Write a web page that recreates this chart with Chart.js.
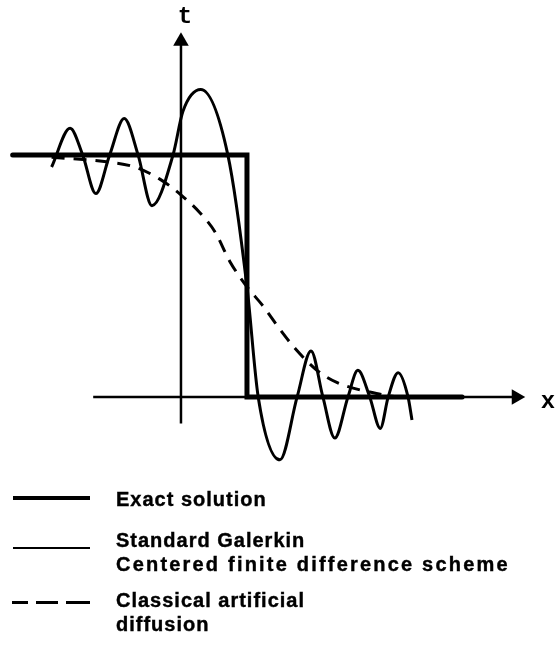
<!DOCTYPE html>
<html>
<head>
<meta charset="utf-8">
<script src="https://cdn.jsdelivr.net/npm/chart.js@4.4.0/dist/chart.umd.min.js"></script>
<style>
  body { margin: 0; background: #fff; }
  #wrap { position: relative; width: 555px; height: 660px; }
  #plot { position: absolute; left: 0; top: 0; }
  .key { position: absolute; left: 13px; width: 77px; background: #000; }
  .txt { position: absolute; left: 116px; font-family: "Liberation Sans", Arial, sans-serif;
         font-weight: bold; font-size: 20px; line-height: 24px; letter-spacing: 1px; color: #000;
         white-space: nowrap; -webkit-text-stroke: 0.4px #000; }
</style>
</head>
<body>
<div id="wrap">
  <canvas id="plot" width="555" height="660"></canvas>
  <div class="key" style="top:496px;height:4px;"></div>
  <div class="txt" style="top:487px;">Exact solution</div>
  <div class="key" style="top:547px;height:2px;"></div>
  <div class="txt" style="top:528px;">Standard Galerkin<br><span style="letter-spacing:2.2px;">Centered finite difference scheme</span></div>
  <div class="key" style="top:601px;height:3px;width:16px;left:12px;"></div>
  <div class="key" style="top:601px;height:3px;width:22px;left:36px;"></div>
  <div class="key" style="top:601px;height:3px;width:24px;left:66px;"></div>
  <div class="txt" style="top:588px;">Classical artificial<br>diffusion</div>
</div>
<script>
// exact solution: step from 1 to 0 at x = 1
var exactX = [-2.55, 1.0, 1.0, 4.26];
var exactY = [1, 1, 0, 0];

// standard Galerkin / centered differences (oscillating)
var galerkinX = [-1.96, -1.68, -1.49, -1.29, -1.08, -0.86, -0.65, -0.44, -0.12, 0.03, 0.30, 0.71, 1.0, 1.17, 1.5, 1.76, 1.97, 2.15, 2.33, 2.53, 2.68, 2.86, 3.02, 3.14, 3.29, 3.44, 3.5];
var galerkinY = [0.95, 1.11, 1.0, 0.84, 1.0, 1.15, 1.0, 0.79, 1.0, 1.18, 1.27, 1.0, 0.455, 0, -0.26, 0, 0.19, 0, -0.17, 0, 0.11, 0, -0.13, 0, 0.10, 0, -0.095];

// classical artificial diffusion (smeared)
var diffX = [-1.96, -1.08, -0.70, -0.32, 0.02, 0.29, 0.52, 0.74, 1.0, 1.23, 1.47, 1.73, 2.06, 2.36, 2.86, 3.36, 4.0];
var diffY = [0.99, 0.97, 0.95, 0.90, 0.83, 0.76, 0.68, 0.56, 0.455, 0.38, 0.29, 0.20, 0.11, 0.06, 0.02, 0, 0];

// axes with arrow heads
var xAxisX = [-1.33, 5.08];
var tAxisY = [-0.11, 1.47];

function pts(xs, ys) {
  return xs.map(function (v, i) { return { x: v, y: ys[i] }; });
}

var labelPlugin = {
  id: 'axisLabels',
  afterDatasetsDraw: function (chart) {
    var c = chart.ctx, sx = chart.scales.x, sy = chart.scales.y;
    c.save();
    c.fillStyle = '#000';
    c.font = 'bold 24px "Liberation Mono", monospace';
    c.textAlign = 'center';
    c.textBaseline = 'middle';
    c.fillText('t', sx.getPixelForValue(0.06), sy.getPixelForValue(1.57));
    c.fillText('x', sx.getPixelForValue(5.56), sy.getPixelForValue(-0.02));
    c.restore();
  }
};

var ctx = document.getElementById('plot').getContext('2d');
var chart = new Chart(ctx, {
  type: 'scatter',
  data: {
    datasets: [
      { data: pts(xAxisX, [0, 0]), showLine: true, borderColor: '#000', borderWidth: 2.5,
        pointRadius: [0, 9], pointStyle: 'triangle', pointRotation: [0, 90],
        backgroundColor: '#000', pointBorderWidth: 0 },
      { data: pts([0, 0], tAxisY), showLine: true, borderColor: '#000', borderWidth: 2.5,
        pointRadius: [0, 9], pointStyle: 'triangle', pointRotation: [0, 0],
        backgroundColor: '#000', pointBorderWidth: 0 },
      { data: pts(exactX, exactY), showLine: true, borderColor: '#000', borderWidth: 5,
        pointRadius: 0, borderCapStyle: 'round' },
      { data: pts(galerkinX, galerkinY), showLine: true, borderColor: '#000', borderWidth: 3,
        pointRadius: 0, cubicInterpolationMode: 'monotone' },
      { data: pts(diffX, diffY), showLine: true, borderColor: '#000', borderWidth: 3,
        pointRadius: 0, cubicInterpolationMode: 'monotone', borderDash: [13, 9] }
    ]
  },
  options: {
    responsive: false,
    animation: false,
    devicePixelRatio: 1,
    layout: { padding: 0, autoPadding: false },
    plugins: { legend: { display: false }, tooltip: { enabled: false } },
    scales: {
      x: { type: 'linear', display: false, min: -2.742, max: 5.667 },
      y: { type: 'linear', display: false, min: -1.087, max: 1.640 }
    }
  },
  plugins: [labelPlugin]
});
</script>
</body>
</html>
